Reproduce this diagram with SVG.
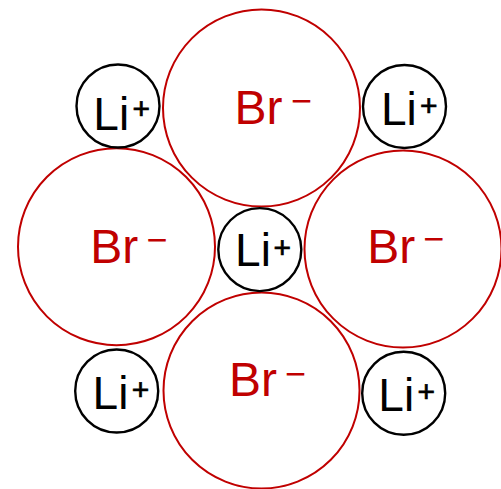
<svg xmlns="http://www.w3.org/2000/svg" width="501" height="489" viewBox="0 0 501 489">
<style>
.br{fill:none;stroke:#C00000;stroke-width:2}
.li{fill:none;stroke:#000;stroke-width:2.4}
.bt{font-family:"Liberation Sans",Arial,sans-serif;font-size:48px;fill:#C00000}
.bm{font-family:"Liberation Sans",Arial,sans-serif;font-size:36px;fill:#C00000}
.lt{font-family:"Liberation Sans",Arial,sans-serif;font-size:46px;fill:#000}
.lp{font-family:"Liberation Sans",Arial,sans-serif;font-size:30px;fill:#000;stroke:#000;stroke-width:0.7}
</style>
<g id="br-top"><circle class="br" cx="261.5" cy="108" r="98.5"/><text class="bt" x="234.5" y="124">Br</text><text class="bm" x="291" y="113.3">−</text></g>
<g id="br-left"><circle class="br" cx="116.5" cy="246.7" r="98.5"/><text class="bt" x="90.2" y="263.3">Br</text><text class="bm" x="146.6" y="252.3">−</text></g>
<g id="br-right"><circle class="br" cx="403" cy="249" r="98.5"/><text class="bt" x="367.2" y="263.3">Br</text><text class="bm" x="423.3" y="251.3">−</text></g>
<g id="br-bottom"><circle class="br" cx="261.5" cy="390.5" r="98"/><text class="bt" x="228.9" y="396">Br</text><text class="bm" x="285" y="385.6">−</text></g>
<g id="li-tl"><circle class="li" cx="118" cy="106" r="41.5"/><text class="lt" x="93.3" y="130">Li</text><text class="lp" x="132.5" y="119.4">+</text></g>
<g id="li-tr"><circle class="li" cx="404.5" cy="106.5" r="41.5"/><text class="lt" x="380.9" y="125">Li</text><text class="lp" x="420.1" y="115.9">+</text></g>
<g id="li-c"><circle class="li" cx="259.8" cy="249.6" r="41.5"/><text class="lt" x="235.1" y="266">Li</text><text class="lp" x="273.5" y="257.7">+</text></g>
<g id="li-bl"><circle class="li" cx="116.7" cy="391" r="41.5"/><text class="lt" x="92.6" y="409">Li</text><text class="lp" x="131.8" y="399.9">+</text></g>
<g id="li-br"><circle class="li" cx="403.7" cy="393.2" r="41.5"/><text class="lt" x="378.3" y="411">Li</text><text class="lp" x="417.5" y="401.9">+</text></g>
<g id="connectors"/>
</svg>
